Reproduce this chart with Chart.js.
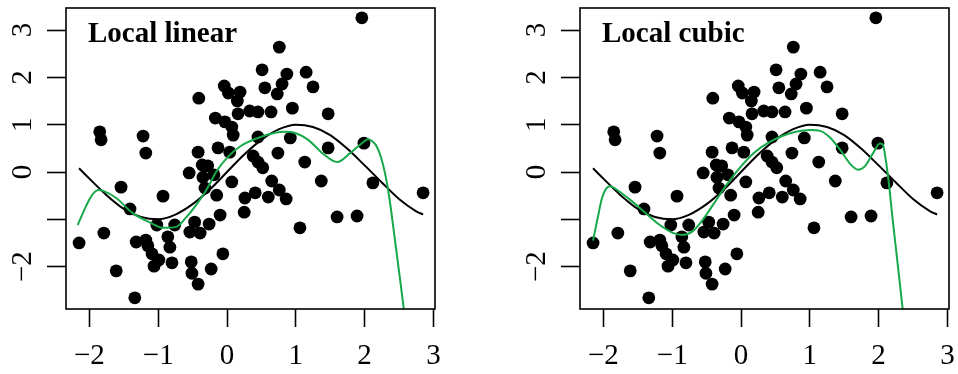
<!DOCTYPE html>
<html>
<head>
<meta charset="utf-8">
<script src="https://cdn.jsdelivr.net/npm/chart.js@4.4.1/dist/chart.umd.min.js"></script>
<style>
  html, body { margin: 0; padding: 0; background: #fff; overflow: hidden; }
  #wrap { position: relative; width: 958px; height: 374px; }
  canvas { position: absolute; top: 0; }
</style>
</head>
<body>
<div id="wrap">
  <canvas id="linear" width="514" height="374" style="left:0px"></canvas>
  <canvas id="cubic" width="444" height="374" style="left:514px"></canvas>
</div>
<script>
// Observed sample
const xObs = [-2.15, -1.85, -1.83, -1.22, -1.18, -1.79, -1.54, -1.61, -1.41, -1.32,
              -1.18, -1.15, -1.34, -1.02, -0.93, -0.86, -0.83, -0.76, -1.09, -0.99,
              -1.06, -0.80, -0.55, -0.42, -0.36, -0.28, -0.35, -0.19, -0.32, -0.15,
               0.07, -0.10, -0.26, -0.47, -0.54, -0.39, -0.06, -0.52, -0.51, -0.23,
              -0.42,  0.26,  0.25,  0.41,  0.60,  0.65,  0.76,  0.86,  1.06,  1.13,
               0.74,  0.38,  0.45,  0.52,  0.76,  0.51,  0.87,  0.80,  0.73,  1.15,
               0.55, -0.04,  0.02,  0.19,  0.15, -0.41,  0.16,  0.33,  0.45,  0.64,
               0.95, -0.17, -0.03,  0.07,  0.09,  0.45,  0.92, -0.13,  0.04,  1.25,
               1.47,  1.47,  1.99,  1.96,  1.37,  2.12,  2.85,  1.60,  1.89];
const yObs = [-1.50,  0.85,  0.68,  0.76,  0.40, -1.29, -0.32, -2.09, -0.78, -1.48,
              -1.44, -1.56, -2.66, -1.12, -0.51, -1.37, -1.59, -1.12, -1.73, -1.86,
              -1.99, -1.92, -0.02,  0.42,  0.15,  0.13, -0.11, -0.06, -0.34, -0.49,
              -0.21, -0.91, -1.10, -1.06, -1.27, -1.29, -1.73, -1.90, -2.14, -2.05,
              -2.37, -0.55, -0.85, -0.44, -0.53, -0.19, -0.38, -0.57, -1.18,  0.21,
               0.40,  0.34,  0.21,  0.09,  2.64,  2.16,  2.07,  1.86,  1.65,  2.11,
               1.78,  1.82,  1.67,  1.69,  1.50,  1.56,  1.23,  1.29,  1.27,  1.27,
               1.35,  1.14,  1.06,  0.95,  0.78,  0.74,  0.72,  0.51,  0.42,  1.80,
               1.23,  0.51,  0.61,  3.26, -0.19, -0.23, -0.44, -0.95, -0.93];

// True regression curve
const trueX = [-2.15, -2.0, -1.75, -1.5, -1.25, -1.0, -0.75, -0.5, -0.25, 0.0, 0.25,
               0.5, 0.75, 1.0, 1.25, 1.5, 1.75, 2.0, 2.25, 2.5, 2.75, 2.85];
const trueY = [0.08, -0.14, -0.49, -0.78, -0.95, -1.0, -0.90, -0.68, -0.37, 0.0, 0.37,
               0.68, 0.90, 1.0, 0.95, 0.78, 0.49, 0.14, -0.22, -0.57, -0.83, -0.90];

// Local linear estimate
const linX = [-2.17, -2.08, -2.0, -1.93, -1.87, -1.8, -1.61, -1.37, -1.13, -0.92, -0.74,
              -0.6, -0.45, -0.3, -0.15, 0.0, 0.2, 0.45, 0.7, 0.85, 1.0, 1.18, 1.4, 1.6,
              1.79, 1.98, 2.05, 2.12, 2.18, 2.24, 2.3, 2.36, 2.42, 2.5, 2.57, 2.64];
const linY = [-1.12, -0.82, -0.58, -0.43, -0.38, -0.40, -0.55, -0.87, -1.06, -1.18, -1.16,
              -0.97, -0.70, -0.38, 0.02, 0.30, 0.55, 0.72, 0.83, 0.85, 0.82, 0.68, 0.38, 0.21,
              0.40, 0.63, 0.69, 0.64, 0.53, 0.30, -0.05, -0.55, -1.20, -2.10, -2.90, -3.80];

// Local cubic estimate
const cubX = [-2.15, -2.08, -2.02, -1.96, -1.9, -1.8, -1.6, -1.4, -1.2, -1.0, -0.85,
              -0.7, -0.55, -0.4, -0.2, 0.0, 0.2, 0.4, 0.6, 0.8, 1.0, 1.15, 1.3, 1.45,
              1.6, 1.7, 1.8, 1.92, 2.02, 2.06, 2.1, 2.15, 2.2, 2.27, 2.35, 2.42];
const cubY = [-1.45, -0.95, -0.55, -0.35, -0.30, -0.38, -0.60, -0.85, -1.10, -1.28, -1.33,
              -1.25, -1.00, -0.68, -0.25, 0.12, 0.42, 0.62, 0.76, 0.85, 0.89, 0.87, 0.72, 0.45,
              0.15, 0.05, 0.12, 0.40, 0.60, 0.58, 0.30, -0.25, -0.95, -1.85, -2.90, -3.80];

// Axis ticks
const xTicks = [-2, -1, 0, 1, 2, 3];
const xTickLabels = ['\u22122', '\u22121', '0', '1', '2', '3'];
const yTicks = [-2, -1, 0, 1, 2, 3];
const yTickLabels = ['\u22122', '', '0', '1', '2', '3'];

const panelTitles = ['Local linear', 'Local cubic'];

const X_MIN = -2.34, X_MAX = 3.023;
const Y_MIN = -2.896, Y_MAX = 3.467;

const SERIF = '"Liberation Serif", "Times New Roman", serif';
const tickFont = { family: SERIF, size: 29 };
const GREEN = '#17a84a';

function pairs(xs, ys) {
  return xs.map((x, i) => ({ x: x, y: ys[i] }));
}

function framePlugin(title) {
  return {
    id: 'frame',
    afterDatasetsDraw(chart) {
      const { ctx, chartArea: a } = chart;
      ctx.save();
      ctx.strokeStyle = '#000';
      ctx.lineWidth = 1.6;
      ctx.strokeRect(a.left, a.top, a.right - a.left, a.bottom - a.top);
      ctx.fillStyle = '#000';
      ctx.font = 'bold 29px ' + SERIF;
      ctx.textAlign = 'left';
      ctx.textBaseline = 'alphabetic';
      ctx.fillText(title, a.left + 22, a.top + 34);
      ctx.restore();
    }
  };
}

function makePanel(id, title, fitX, fitY, rightPad) {
  return new Chart(document.getElementById(id), {
    type: 'scatter',
    data: {
      datasets: [
        {
          data: pairs(fitX, fitY), showLine: true, pointRadius: 0,
          borderColor: GREEN, borderWidth: 2, cubicInterpolationMode: 'monotone',
          fill: false, order: 1
        },
        {
          data: pairs(trueX, trueY), showLine: true, pointRadius: 0,
          borderColor: '#000', borderWidth: 2, cubicInterpolationMode: 'monotone',
          fill: false, order: 2
        },
        {
          data: pairs(xObs, yObs), showLine: false, pointRadius: 6.4,
          pointBackgroundColor: '#000', pointBorderWidth: 0, order: 3
        }
      ]
    },
    options: {
      responsive: false,
      animation: false,
      devicePixelRatio: 1,
      events: [],
      layout: { padding: { left: 0, right: rightPad, top: 8, bottom: 0 } },
      plugins: { legend: { display: false }, tooltip: { enabled: false } },
      scales: {
        x: {
          type: 'linear', min: X_MIN, max: X_MAX,
          afterBuildTicks: s => { s.ticks = xTicks.map(v => ({ value: v })); },
          afterFit: s => { s.height = 65; s.paddingLeft = 0; s.paddingRight = 0; },
          ticks: {
            font: tickFont, color: '#000', padding: 12, maxRotation: 0, minRotation: 0,
            autoSkip: false, callback: v => xTickLabels[xTicks.indexOf(v)]
          },
          grid: { drawOnChartArea: false, drawTicks: true, tickLength: 18, tickWidth: 1.6, tickColor: '#000' },
          border: { display: false }
        },
        y: {
          type: 'linear', min: Y_MIN, max: Y_MAX,
          afterBuildTicks: s => { s.ticks = yTicks.map(v => ({ value: v })); },
          afterFit: s => { s.width = 66; s.paddingTop = 0; s.paddingBottom = 0; },
          ticks: {
            font: tickFont, color: '#000', padding: 8, minRotation: 90, maxRotation: 90,
            crossAlign: 'center', autoSkip: false,
            callback: v => yTickLabels[yTicks.indexOf(v)]
          },
          grid: { drawOnChartArea: false, drawTicks: true, tickLength: 19, tickWidth: 1.6, tickColor: '#000' },
          border: { display: false }
        }
      }
    },
    plugins: [framePlugin(title)]
  });
}

makePanel('linear', panelTitles[0], linX, linY, 79);
makePanel('cubic', panelTitles[1], cubX, cubY, 9);
</script>
</body>
</html>
